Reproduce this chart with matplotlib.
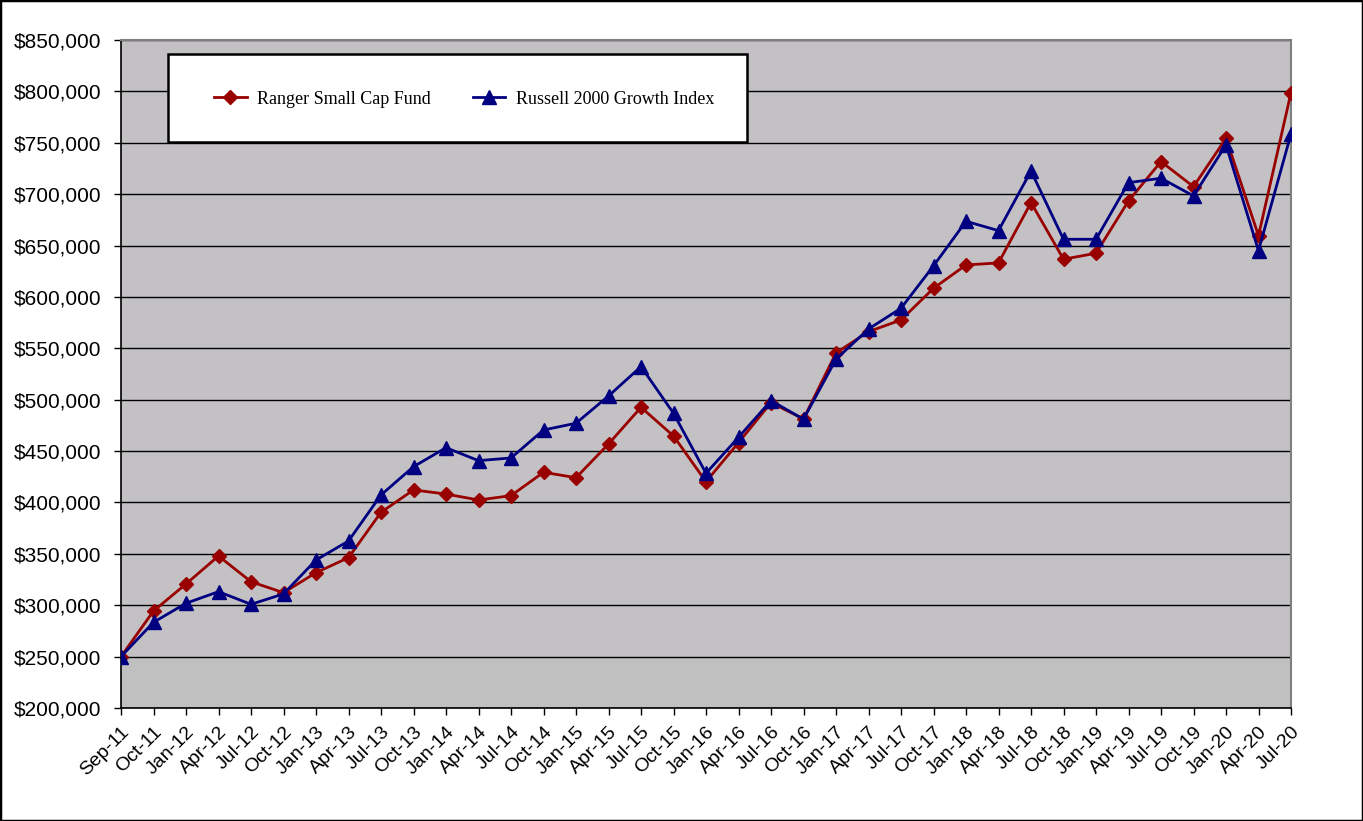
import matplotlib
matplotlib.use('Agg')
import matplotlib.pyplot as plt
from matplotlib.patches import Rectangle
from matplotlib.ticker import FuncFormatter

# quarter labels on the x axis
dates = ['Sep-11', 'Oct-11', 'Jan-12', 'Apr-12', 'Jul-12', 'Oct-12', 'Jan-13', 'Apr-13',
         'Jul-13', 'Oct-13', 'Jan-14', 'Apr-14', 'Jul-14', 'Oct-14', 'Jan-15', 'Apr-15',
         'Jul-15', 'Oct-15', 'Jan-16', 'Apr-16', 'Jul-16', 'Oct-16', 'Jan-17', 'Apr-17',
         'Jul-17', 'Oct-17', 'Jan-18', 'Apr-18', 'Jul-18', 'Oct-18', 'Jan-19', 'Apr-19',
         'Jul-19', 'Oct-19', 'Jan-20', 'Apr-20', 'Jul-20']

# growth of $250,000
ranger = [250000, 294400, 320700, 347900, 322900, 312200, 331700, 346300,
          390400, 412200, 408200, 402400, 406600, 429400, 424100, 456900,
          492600, 464700, 420200, 458200, 497100, 481300, 545500, 566200,
          577600, 608400, 631100, 633100, 691800, 636700, 642500, 693400,
          731700, 707300, 754400, 659600, 798800]
russell = [250000, 283400, 301900, 313200, 300900, 311000, 344000, 362500,
           407300, 434800, 453300, 440700, 443300, 470500, 477100, 503600,
           532200, 486800, 428400, 463400, 499100, 481000, 539400, 568800,
           589000, 630200, 673600, 664500, 722600, 656100, 656100, 711200,
           715500, 698300, 747900, 645000, 758600]

W, H = 1363, 821
fig = plt.figure(figsize=(W / 100, H / 100), dpi=100)
fig.patch.set_facecolor('white')

ax = fig.add_axes([121 / W, 1 - 708 / H, 1170 / W, 668 / H])
ax.set_facecolor('#c0c0c0')
# the old chart has a dithered band above the starting value
ax.axhspan(ranger[0], 850000, color='#c3c1c4', lw=0, zorder=0)

x = list(range(len(dates)))
ax.plot(x, ranger, color='#990000', lw=2, marker='D', ms=7.5,
        mec='#990000', mfc='#990000', label='Ranger Small Cap Fund', zorder=3)
ax.plot(x, russell, color='#000080', lw=2, marker='^', ms=9.5,
        mec='#000080', mfc='#000080', label='Russell 2000 Growth Index', zorder=4)

ax.set_xlim(0, len(dates) - 1)
ax.set_ylim(200000, 850000)
ax.set_yticks(range(200000, 850001, 50000))
ax.yaxis.set_major_formatter(FuncFormatter(lambda v, p: '${:,.0f}'.format(v)))
ax.set_xticks(x)
ax.set_xticklabels(dates, rotation=45, ha='right', va='top', rotation_mode='anchor')

for lab in ax.get_yticklabels():
    lab.set_fontfamily('Liberation Sans')
    lab.set_fontsize(15)
for lab in ax.get_xticklabels():
    lab.set_fontfamily('Liberation Sans')
    lab.set_fontsize(14)

ax.tick_params(axis='both', direction='out', length=5, width=1, color='black')
ax.tick_params(axis='y', pad=9)
ax.tick_params(axis='x', pad=6)

ax.grid(axis='y', color='black', lw=1)
ax.set_axisbelow(True)
for side in ['left', 'bottom']:
    ax.spines[side].set_color('black')
    ax.spines[side].set_linewidth(1.2)
for side in ['top', 'right']:
    ax.spines[side].set_color('#808080')
    ax.spines[side].set_linewidth(1.5)

# legend box
fig.patches.append(Rectangle((168 / W, 1 - 142 / H), 579 / W, 88 / H,
                             transform=fig.transFigure, facecolor='white',
                             edgecolor='black', lw=1.8, zorder=5))
leg = fig.legend(loc='center left', bbox_to_anchor=(205 / W, 1 - 99 / H), ncol=2,
                 frameon=False, borderpad=0, handlelength=1.8, handletextpad=0.6,
                 columnspacing=2.3, prop={'family': 'Liberation Serif', 'size': 13})
leg.set_zorder(6)

# outer border
fig.patches.append(Rectangle((0, 0), 1, 1, transform=fig.transFigure, fill=False,
                             edgecolor='black', lw=2.5, zorder=10))

fig.savefig('out.png', dpi=100)
